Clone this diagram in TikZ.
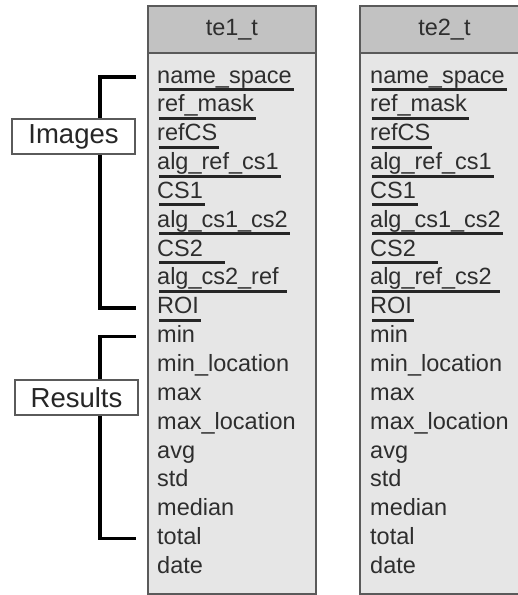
\documentclass[tikz,border=0pt]{standalone}
\usepackage{fontspec}
\setmainfont{Liberation Sans}
\usetikzlibrary{positioning}
\definecolor{headgray}{HTML}{C2C2C2}
\definecolor{bodygray}{HTML}{E6E6E6}
\definecolor{framegray}{HTML}{5A5A5A}
\definecolor{textgray}{HTML}{2E2E2E}
\tikzset{%
  tablehead/.style={rectangle,draw=framegray,fill=headgray,line width=1.8pt,anchor=north west,minimum width=#1,minimum height=47pt,inner sep=0pt,font=\fontsize{23.5}{28}\selectfont,text=textgray},
  tablebody/.style={rectangle,draw=framegray,fill=bodygray,line width=1.8pt,anchor=north west,minimum width=#1,minimum height=541pt,inner sep=0pt},
  field/.style={anchor=base west,inner sep=0pt,text height=17pt,text depth=5pt,font=\fontsize{23.5}{28}\selectfont,text=textgray},
  keyline/.style={draw=black!85,line width=3pt},
  grouplabel/.style={rectangle,draw=framegray,fill=white,line width=1.2pt,minimum width=123pt,minimum height=35pt,inner sep=0pt,font=\fontsize{27.5}{32}\selectfont,text=black!85},
  groupline/.style={draw=black,line width=3.5pt}%
}

\begin{document}
\begin{tikzpicture}[x=1pt,y=-1pt]
    \clip (0,0) rectangle (518,595);

    % first table
    \node (te1_body) [tablebody=168pt] at (147,52) {};
    \node (te1_head) [tablehead=168pt] at (147,5) {te1\_t};
    \foreach \f [count=\i from 0] in {name\_space,ref\_mask,refCS,alg\_ref\_cs1,CS1,alg\_cs1\_cs2,CS2\hphantom{\ \ \ },alg\_cs2\_ref\hphantom{\ },ROI} {
      \node (te1_\i) [field] at (157,83+28.85*\i) {\f};
      \draw[keyline] ([xshift=2pt,yshift=-6.5pt]te1_\i.base west) -- ([xshift=2pt,yshift=-6.5pt]te1_\i.base east);
    }
    \foreach \f [count=\i from 9] in {min,min\_location,max,max\_location,avg,std,median,total,date}
      \node (te1_\i) [field] at (157,83+28.85*\i) {\f};

    % second table
    \node (te2_body) [tablebody=169pt] at (359,52) {};
    \node (te2_head) [tablehead=169pt] at (359,5) {te2\_t};
    \foreach \f [count=\i from 0] in {name\_space,ref\_mask,refCS,alg\_ref\_cs1,CS1,alg\_cs1\_cs2,CS2\hphantom{\ \ \ },alg\_ref\_cs2\hphantom{\ },ROI} {
      \node (te2_\i) [field] at (370,83+28.85*\i) {\f};
      \draw[keyline] ([xshift=2pt,yshift=-6.5pt]te2_\i.base west) -- ([xshift=2pt,yshift=-6.5pt]te2_\i.base east);
    }
    \foreach \f [count=\i from 9] in {min,min\_location,max,max\_location,avg,std,median,total,date}
      \node (te2_\i) [field] at (370,83+28.85*\i) {\f};

    % groups
    \coordinate (tip) at (136,0);
    \draw[groupline] (tip |- te1_0) -- ++(-36,0) |- (tip |- te1_8);
    \draw[groupline] (tip |- te1_9) -- ++(-36,0) |- (tip |- te1_16);
    \node (images) [grouplabel] at (73.5,136.5) {Images};
    \node (results) [grouplabel] at (76.5,397.5) {Results};

\end{tikzpicture}
\end{document}
